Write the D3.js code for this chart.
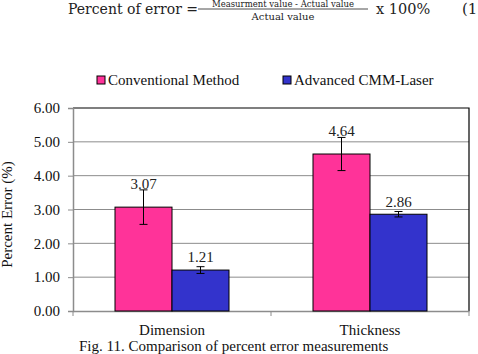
<!DOCTYPE html>
<html>
<head>
<meta charset="utf-8">
<script src="https://cdn.jsdelivr.net/npm/d3@7"></script>
<style>
  body { margin: 0; background: #fff; }
  svg text { font-family: "Liberation Serif", "Times New Roman", serif; }
</style>
</head>
<body>
<div id="chart"></div>
<script>
// Chart data
const categories = ["Dimension", "Thickness"];
const seriesNames = ["Conventional Method", "Advanced CMM-Laser"];
const conventional = [3.07, 4.64];
const advanced = [1.21, 2.86];
const conventionalErr = [0.51, 0.49];
const advancedErr = [0.10, 0.08];
const yTicks = [0, 1, 2, 3, 4, 5, 6];
const colors = ["#ff3399", "#3333cc"];

const W = 478, H = 354;
const margin = { top: 108, right: 9, bottom: 43, left: 73 };
const width = W - margin.left - margin.right,
      height = H - margin.top - margin.bottom;
const serif = "'Liberation Serif', 'Times New Roman', serif";
const eqFont = "'DejaVu Serif', serif";

const svg = d3.select("#chart").append("svg")
    .attr("width", W)
    .attr("height", H);

// Equation above the chart
const eq = svg.append("g").attr("fill", "#222");
eq.append("text").attr("x", 68).attr("y", 14).style("font-family", eqFont).style("font-size", "14px").text("Percent of error =");
eq.append("text").attr("x", 283).attr("y", 7).attr("text-anchor", "middle").style("font-family", eqFont).style("font-size", "8.5px").text("Measurment value - Actual value");
eq.append("line").attr("x1", 198).attr("x2", 368).attr("y1", 9).attr("y2", 9).attr("stroke", "#222").attr("stroke-width", 0.8);
eq.append("text").attr("x", 283).attr("y", 20).attr("text-anchor", "middle").style("font-family", eqFont).style("font-size", "10px").text("Actual value");
eq.append("text").attr("x", 376).attr("y", 14).style("font-family", eqFont).style("font-size", "14.5px").text("x 100%");
eq.append("text").attr("x", 462).attr("y", 14).style("font-family", eqFont).style("font-size", "15px").text("(1");

const g = svg.append("g").attr("transform", `translate(${margin.left},${margin.top})`);

const x0 = d3.scaleBand().domain(categories).range([0, width]);
const x1 = d3.scaleBand().domain(seriesNames).range([x0.bandwidth() / 2 - 57, x0.bandwidth() / 2 + 57]);
const y = d3.scaleLinear().domain([0, 6]).range([height, 0]);

// Gridlines
g.selectAll(".grid").data(yTicks.slice(1, -1)).enter().append("line")
    .attr("x1", 0).attr("x2", width)
    .attr("y1", d => y(d)).attr("y2", d => y(d))
    .attr("stroke", "#8c8c8c").attr("stroke-width", 1);

// Plot border (top and right black)
g.append("path")
    .attr("d", `M0,${y(6)}H${width}V${height}`)
    .attr("fill", "none").attr("stroke", "#000").attr("stroke-width", 1.2);

// Y axis
const yAxis = g.append("g")
    .call(d3.axisLeft(y).tickValues(yTicks).tickFormat(d3.format(".2f")).tickSize(5).tickPadding(8));
yAxis.select(".domain").attr("stroke", "#8c8c8c").attr("stroke-width", 1.5);
yAxis.selectAll(".tick line").attr("stroke", "#8c8c8c");
yAxis.selectAll("text").style("font-size", "15px").style("font-family", serif).attr("fill", "#111");

// X axis
const xAxis = g.append("g").attr("transform", `translate(0,${height})`)
    .call(d3.axisBottom(x0).tickSize(0).tickPadding(13));
xAxis.select(".domain").attr("stroke", "#8c8c8c").attr("stroke-width", 1.5);
xAxis.selectAll("text").style("font-size", "15px").style("font-family", serif).attr("fill", "#111");
g.selectAll(".xtick").data([0, 1, 2]).enter().append("line")
    .attr("x1", d => d * x0.bandwidth()).attr("x2", d => d * x0.bandwidth())
    .attr("y1", height).attr("y2", height + 5)
    .attr("stroke", "#8c8c8c");

// Bars
const series = [
  { name: seriesNames[0], values: conventional, errs: conventionalErr, color: colors[0] },
  { name: seriesNames[1], values: advanced, errs: advancedErr, color: colors[1] }
];

series.forEach(s => {
  categories.forEach((c, i) => {
    const bx = x0(c) + x1(s.name);
    const v = s.values[i], e = s.errs[i];
    const cx = bx + x1.bandwidth() / 2;
    g.append("rect")
        .attr("x", bx).attr("y", y(v))
        .attr("width", x1.bandwidth()).attr("height", height - y(v))
        .attr("fill", s.color).attr("stroke", "#000").attr("stroke-width", 1);
    // Error bar
    g.append("line").attr("x1", cx).attr("x2", cx).attr("y1", y(v + e)).attr("y2", y(v - e))
        .attr("stroke", "#000").attr("stroke-width", 1);
    [v + e, v - e].forEach(t => {
      g.append("line").attr("x1", cx - 4).attr("x2", cx + 4).attr("y1", y(t)).attr("y2", y(t))
          .attr("stroke", "#000").attr("stroke-width", 1);
    });
    // Value label
    const ly = s === series[0] ? y(v + e) - 1 : y(v + e) - 5;
    g.append("text")
        .attr("x", cx).attr("y", ly)
        .attr("text-anchor", "middle")
        .style("font-size", "15px").attr("fill", "#222")
        .text(v.toFixed(2));
  });
});

// Y axis title
svg.append("text")
    .attr("transform", `translate(12,${margin.top + height / 2 + 5}) rotate(-90)`)
    .attr("text-anchor", "middle")
    .style("font-size", "15px").attr("fill", "#111")
    .text("Percent Error (%)");

// Legend
const legendItems = [
  { name: seriesNames[0], color: colors[0], x: 97 },
  { name: seriesNames[1], color: colors[1], x: 283 }
];
legendItems.forEach(d => {
  svg.append("rect").attr("x", d.x).attr("y", 76).attr("width", 8).attr("height", 8)
      .attr("fill", d.color).attr("stroke", "#000").attr("stroke-width", 1);
  svg.append("text").attr("x", d.x + 11).attr("y", 85)
      .style("font-size", "15px").attr("fill", "#111").text(d.name);
});

// Caption
svg.append("text").attr("x", 79).attr("y", 351)
    .style("font-size", "15px").attr("fill", "#111")
    .text("Fig. 11. Comparison of percent error measurements");
</script>
</body>
</html>
